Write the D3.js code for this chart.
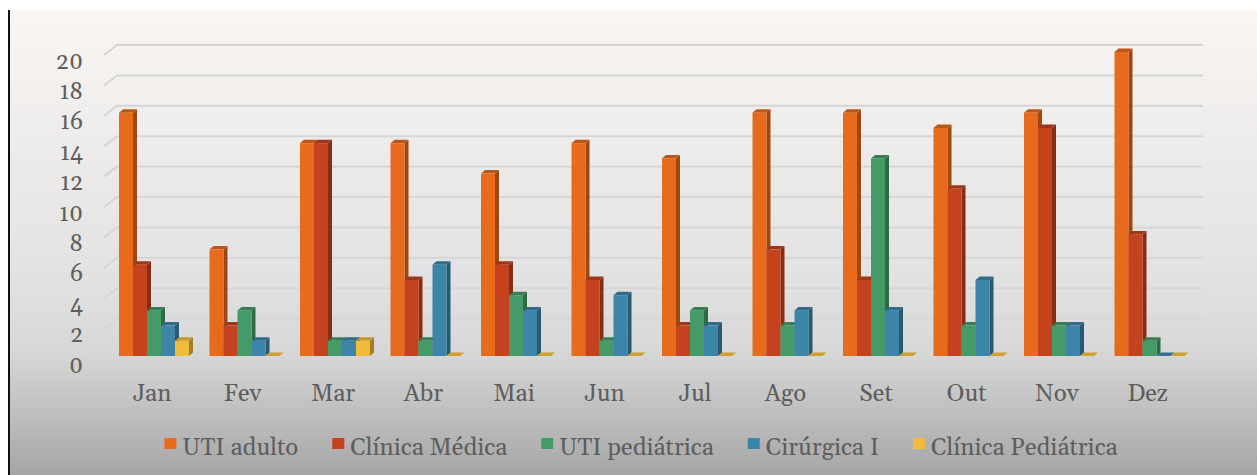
<!DOCTYPE html>
<html>
<head>
  <meta charset="utf-8">
  <title>Internações por setor</title>
  <script src="https://d3js.org/d3.v7.min.js"></script>
  <style>
    body { margin: 0; background: #fff; }
  </style>
</head>
<body>
  <div id="vis"></div>
  <script>
    const width = 1257
    const height = 475

    // data
    const months = ["Jan", "Fev", "Mar", "Abr", "Mai", "Jun", "Jul", "Ago", "Set", "Out", "Nov", "Dez"]
    const series = ["UTI adulto", "Clínica Médica", "UTI pediátrica", "Cirúrgica I", "Clínica Pediátrica"]
    const utiAdulto = [16, 7, 14, 14, 12, 14, 13, 16, 16, 15, 16, 20]
    const clinicaMedica = [6, 2, 14, 5, 6, 5, 2, 7, 5, 11, 15, 8]
    const utiPediatrica = [3, 3, 1, 1, 4, 1, 3, 2, 13, 2, 2, 1]
    const cirurgica = [2, 1, 1, 6, 3, 4, 2, 3, 3, 5, 2, 0]
    const clinicaPediatrica = [1, 0, 1, 0, 0, 0, 0, 0, 0, 0, 0, 0]
    const yTicks = [0, 2, 4, 6, 8, 10, 12, 14, 16, 18, 20]
    const colors = ["#E86A1C", "#C5421F", "#459B68", "#3D84A9", "#F0BC3A"]

    const values = [utiAdulto, clinicaMedica, utiPediatrica, cirurgica, clinicaPediatrica]
    const font = "Gelasio"
    const textColor = "#5e5e5e"

    const svg = d3.select("#vis").append("svg")
      .attr("width", width)
      .attr("height", height)

    // background
    const grad = svg.append("defs").append("linearGradient")
      .attr("id", "bg").attr("x1", 0).attr("y1", 0).attr("x2", 0).attr("y2", 1)
    grad.append("stop").attr("offset", "0%").attr("stop-color", "#f9f6f3")
    grad.append("stop").attr("offset", "55%").attr("stop-color", "#e4e3e3")
    grad.append("stop").attr("offset", "73%").attr("stop-color", "#d8d8d8")
    grad.append("stop").attr("offset", "100%").attr("stop-color", "#a6a6a6")

    svg.append("rect")
      .attr("x", 8).attr("y", 10)
      .attr("width", width - 8).attr("height", height - 10)
      .attr("fill", "url(#bg)")
    svg.append("line")
      .attr("x1", 9).attr("x2", 9).attr("y1", 10).attr("y2", height)
      .attr("stroke", "#111").attr("stroke-width", 2)

    const y = d3.scaleLinear().domain([0, 20]).range([356, 52])

    const x = d3.scaleBand().domain(months).range([98.5, 1205]).padding(0.2265)
    const xs = d3.scaleBand().domain(series).range([0, x.bandwidth()])

    const dx = 4, dy = -3.5
    const wallX0 = 104, wallX1 = 117, wallRight = 1203

    // gridlines on the back wall
    svg.append("g")
      .selectAll("path")
      .data(yTicks)
      .join("path")
      .attr("d", d => `M${wallX0},${y(d) + 3}L${wallX1},${y(d) - 7}L${wallRight},${y(d) - 7}`)
      .attr("fill", "none")
      .attr("stroke", "#d6d6d6")
      .attr("stroke-width", 2)

    // y labels
    svg.append("g")
      .selectAll("text")
      .data(yTicks)
      .join("text")
      .attr("x", 83)
      .attr("y", d => y(d) + 16.5)
      .attr("text-anchor", "end")
      .style("font-family", font)
      .style("font-size", "23px")
      .attr("fill", textColor)
      .text(d => d)

    // bars (front, side, top)
    const bars = []
    months.forEach((m, i) => {
      series.forEach((s, j) => {
        bars.push({ month: m, series: s, value: values[j][i], color: colors[j] })
      })
    })

    const bar = svg.append("g")
      .selectAll("g")
      .data(bars)
      .join("g")

    bar.each(function (d) {
      const g = d3.select(this)
      const x0 = x(d.month) + xs(d.series)
      const w = xs.bandwidth()
      const y0 = y(0)
      const y1 = y(d.value)
      const c = d3.color(d.color)
      g.append("path")
        .attr("d", `M${x0 + w},${y1}L${x0 + w + dx},${y1 + dy}L${x0 + w + dx},${y0 + dy}L${x0 + w},${y0}Z`)
        .attr("fill", c.darker(1.1))
      g.append("path")
        .attr("d", `M${x0},${y1}L${x0 + dx},${y1 + dy}L${x0 + w + dx},${y1 + dy}L${x0 + w},${y1}Z`)
        .attr("fill", d.value === 0 ? c.darker(0.45) : c.darker(0.6))
      if (d.value > 0) {
        g.append("rect")
          .attr("x", x0)
          .attr("y", y1)
          .attr("width", w)
          .attr("height", y0 - y1)
          .attr("fill", d.color)
      }
    })

    // category labels
    svg.append("g")
      .selectAll("text")
      .data(months)
      .join("text")
      .attr("x", d => x(d) + x.bandwidth() / 2 - 2)
      .attr("y", 401)
      .attr("text-anchor", "middle")
      .style("font-family", font)
      .style("font-size", "24px")
      .attr("fill", textColor)
      .text(d => d)

    // legend
    const legend = svg.append("g")
    const items = legend.selectAll("g")
      .data(series)
      .join("g")
    items.append("rect")
      .attr("width", 12).attr("height", 11)
      .attr("y", 438)
      .attr("fill", (d, i) => colors[i])
    items.append("text")
      .attr("x", 18)
      .attr("y", 455)
      .style("font-family", font)
      .style("font-size", "24px")
      .attr("fill", textColor)
      .text(d => d)

    let offset = 0
    const widths = []
    items.each(function () {
      const w = 18 + d3.select(this).select("text").node().getComputedTextLength()
      widths.push(offset)
      offset += w + 34
    })
    const total = offset - 34
    const start = 641 - total / 2
    items.attr("transform", (d, i) => `translate(${start + widths[i]},0)`)
  </script>
</body>
</html>
